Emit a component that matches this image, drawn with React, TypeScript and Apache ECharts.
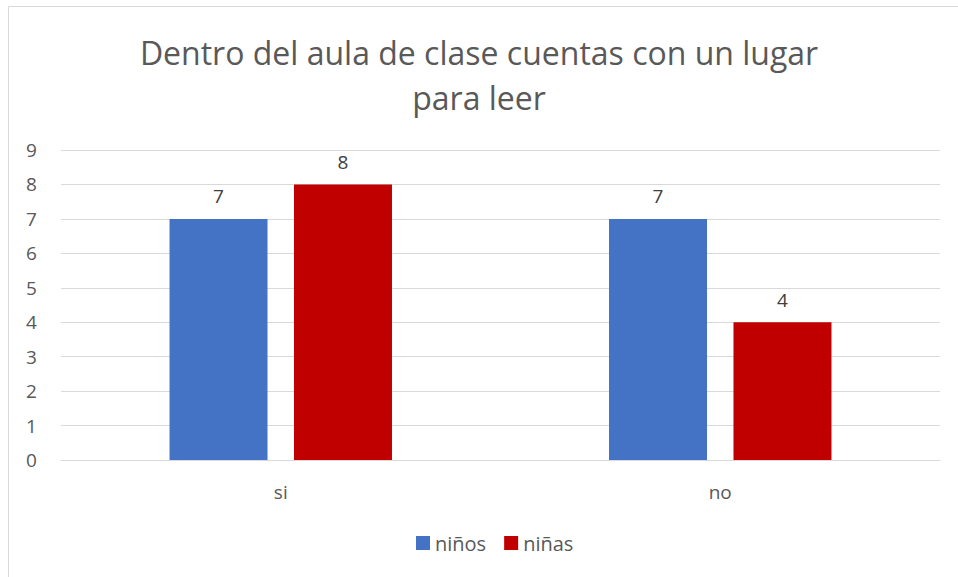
import React, { useEffect, useRef } from "react";
import * as echarts from "echarts";

const categories = ["si", "no"];
const ninos = [7, 7];
const ninas = [8, 4];
const seriesNames = ["niños", "niñas"];
const titleText = "Dentro del aula de clase cuentas con un lugar\npara leer";

export default function App() {
  const ref = useRef<HTMLDivElement>(null);
  useEffect(() => {
    if (!ref.current) return;
    const chart = echarts.init(ref.current, undefined, { renderer: "svg" });
    const font = "'Open Sans', 'Noto Sans', sans-serif";
    const labelStyle = {
      show: true,
      position: "top" as const,
      color: "#404040",
      fontSize: 19,
      fontFamily: font,
      distance: 13,
    };
    chart.setOption({
      animation: false,
      backgroundColor: "#ffffff",
      textStyle: { fontFamily: font },
      graphic: [
        {
          type: "rect",
          shape: { x: 8.5, y: 6.5, width: 1200, height: 1200 },
          style: { fill: "none", stroke: "#d9d9d9", lineWidth: 1 },
          silent: true,
        },
      ],
      title: {
        text: titleText,
        left: "center",
        top: 25,
        textStyle: {
          color: "#595959",
          fontSize: 32,
          fontWeight: "normal",
          fontFamily: font,
          lineHeight: 45,
        },
      },
      legend: {
        bottom: 19,
        left: 411,
        itemWidth: 14,
        itemHeight: 14,
        itemGap: 18,
        icon: "rect",
        textStyle: { color: "#595959", fontSize: 20, fontFamily: font },
        data: seriesNames,
      },
      grid: { left: 61, right: 18, top: 150, bottom: 117 },
      xAxis: {
        type: "category",
        data: categories,
        axisLine: { lineStyle: { color: "#d9d9d9", width: 1 } },
        axisTick: { show: false },
        axisLabel: { color: "#595959", fontSize: 19, fontFamily: font, margin: 22 },
      },
      yAxis: {
        type: "value",
        min: 0,
        max: 9,
        interval: 1,
        axisLine: { show: false },
        axisTick: { show: false },
        axisLabel: { color: "#595959", fontSize: 19, fontFamily: font, margin: 35, align: "left" },
        splitLine: { lineStyle: { color: "#d9d9d9", width: 1 } },
      },
      series: [
        {
          name: seriesNames[0],
          type: "bar",
          data: ninos,
          barWidth: 98,
          barGap: "27%",
          itemStyle: { color: "#4472C4" },
          label: labelStyle,
        },
        {
          name: seriesNames[1],
          type: "bar",
          data: ninas,
          barWidth: 98,
          barGap: "27%",
          itemStyle: { color: "#C00000" },
          label: labelStyle,
        },
      ],
    });
    return () => chart.dispose();
  }, []);
  return (
    <div
      ref={ref}
      style={{ position: "absolute", left: 0, top: 0, width: 958, height: 577 }}
    />
  );
}
